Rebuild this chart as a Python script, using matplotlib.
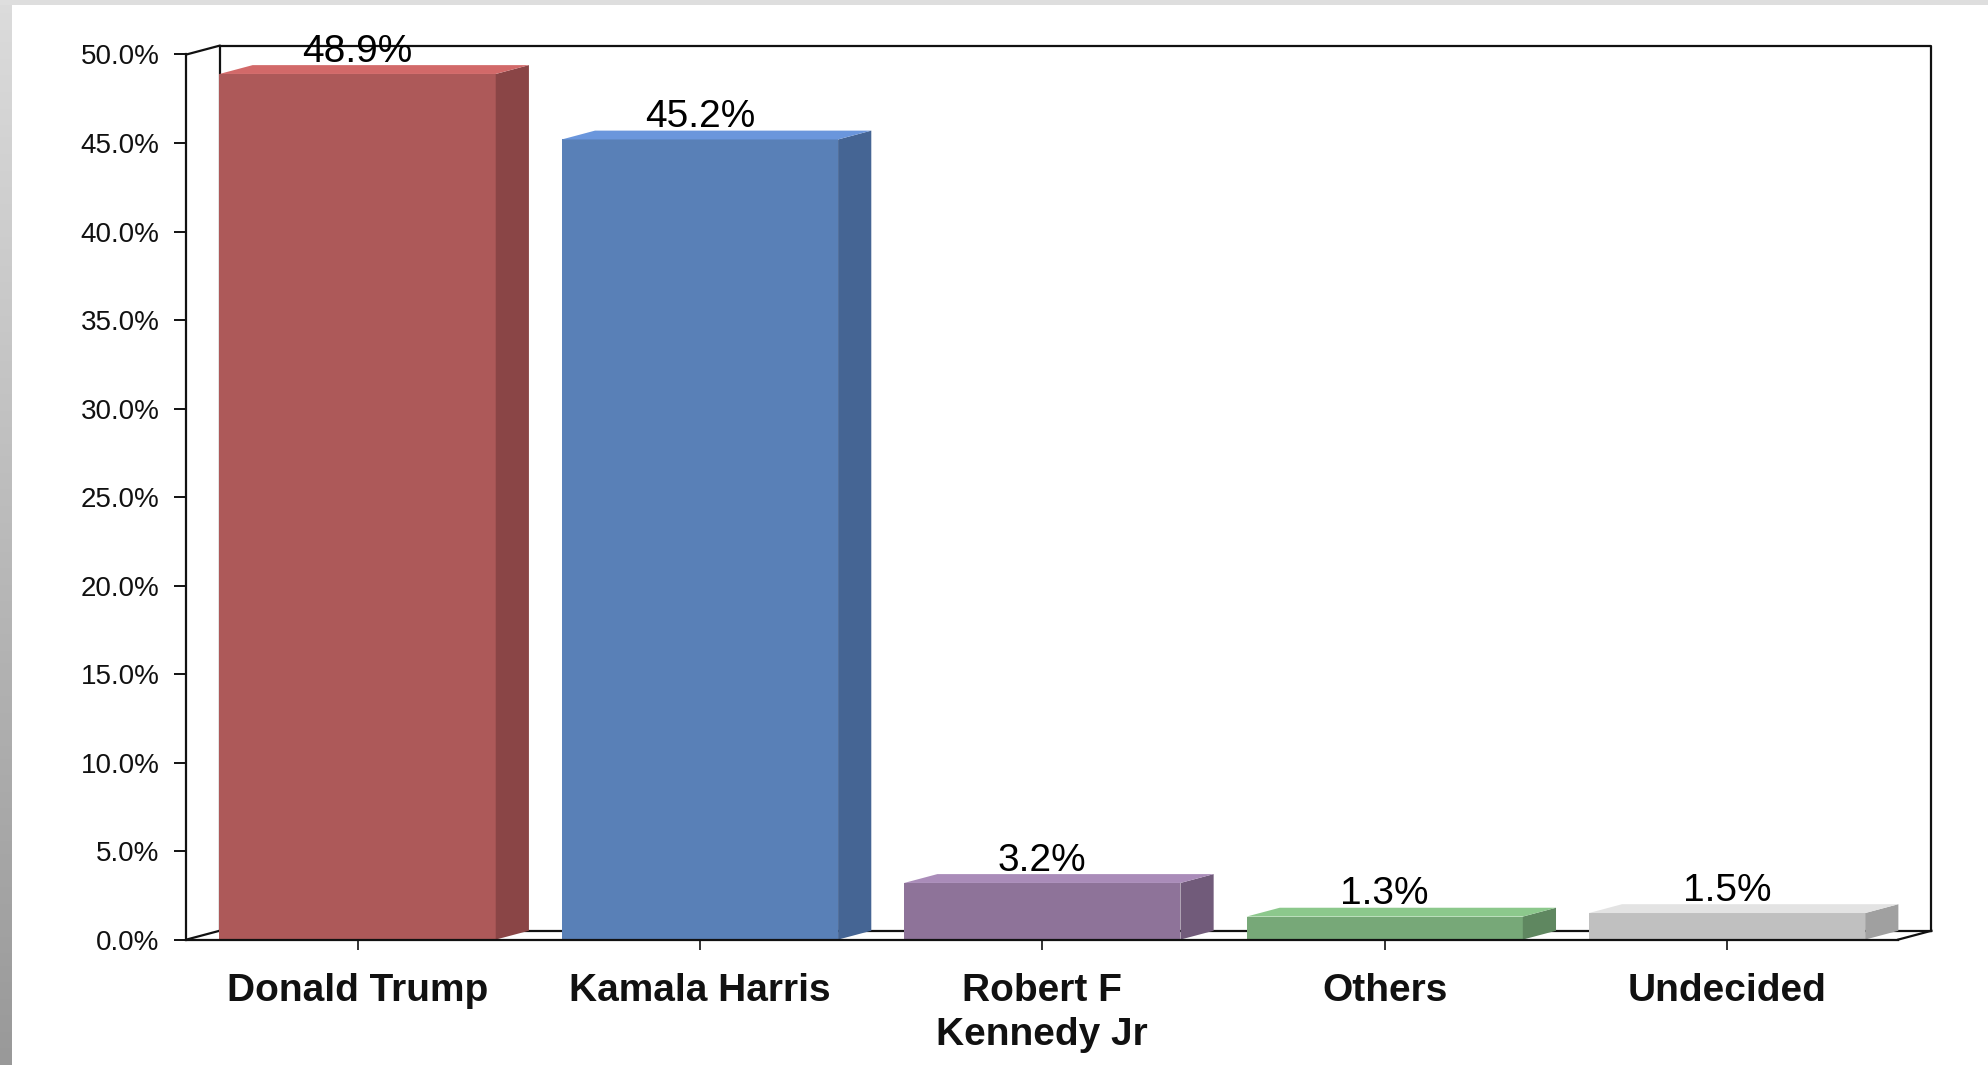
import numpy as np
import matplotlib
matplotlib.use("Agg")
import matplotlib.pyplot as plt
from matplotlib.patches import Polygon, Rectangle

# ---------------- data ----------------
categories = ["Donald Trump", "Kamala Harris", "Robert F\nKennedy Jr", "Others", "Undecided"]
values = [48.9, 45.2, 3.2, 1.3, 1.5]
value_labels = ["48.9%", "45.2%", "3.2%", "1.3%", "1.5%"]
y_ticks = [0, 5, 10, 15, 20, 25, 30, 35, 40, 45, 50]
y_tick_labels = ["0.0%", "5.0%", "10.0%", "15.0%", "20.0%", "25.0%",
                 "30.0%", "35.0%", "40.0%", "45.0%", "50.0%"]
front_colors = ["#AD5959", "#5980B7", "#8E7399", "#77A878", "#C0C0C0"]
side_colors = ["#8A4546", "#456594", "#715B7A", "#5F8760", "#A0A0A0"]
top_colors = ["#D26969", "#6A96DC", "#AA8CB9", "#8CC88C", "#E3E3E3"]

plt.rcParams['font.family'] = ['Liberation Sans', 'DejaVu Sans']

W, H = 1988, 1065
fig = plt.figure(figsize=(W / 100, H / 100), dpi=100)
fig.patch.set_facecolor("white")

# background frame strips
bg = fig.add_axes([0, 0, 1, 1])
bg.set_xlim(0, W)
bg.set_ylim(H, 0)
bg.set_axis_off()
grad = np.linspace(0.86, 0.60, 256).reshape(-1, 1)
bg.imshow(np.dstack([grad, grad, grad]), extent=[0, 12, H, 5], aspect="auto")
bg.add_patch(Rectangle((0, 0), W, 5, color="#dedede", lw=0))

# main axes = front plane
left, right = 186.4, 1898.2
top, bottom = 54.5, 939.6
ax = fig.add_axes([left / W, 1 - bottom / H, (right - left) / W, (bottom - top) / H])
ax.set_facecolor("none")
ax.set_xlim(-0.5, len(categories) - 0.5)
ax.set_ylim(0, 50)

dx, dy = 0.097, 0.5   # depth offset
x = np.arange(len(categories))
bw = 0.807
lc = "#111111"
lw = 1.6

x0, x1 = -0.5, len(categories) - 0.5
# back wall and floor
ax.plot([x0 + dx, x0 + dx, x1 + dx, x1 + dx], [dy, 50 + dy, 50 + dy, dy],
        color=lc, lw=lw, clip_on=False, zorder=1)
ax.plot([x0, x0 + dx], [50, 50 + dy], color=lc, lw=lw, clip_on=False, zorder=1)
ax.plot([x0 + dx, x1 + dx], [dy, dy], color=lc, lw=lw, clip_on=False, zorder=1)
ax.plot([x0, x0 + dx], [0, dy], color=lc, lw=lw, clip_on=False, zorder=1)
ax.plot([x1, x1 + dx], [0, dy], color=lc, lw=lw, clip_on=False, zorder=1)

# bars
ax.bar(x, values, width=bw, color=front_colors, zorder=3)
for xi, v, sc, tc in zip(x, values, side_colors, top_colors):
    a, b = xi - bw / 2, xi + bw / 2
    ax.add_patch(Polygon([(b, 0), (b + dx, dy), (b + dx, v + dy), (b, v)],
                         closed=True, facecolor=sc, edgecolor="none", zorder=3, clip_on=False))
    ax.add_patch(Polygon([(a, v), (b, v), (b + dx, v + dy), (a + dx, v + dy)],
                         closed=True, facecolor=tc, edgecolor="none", zorder=3, clip_on=False))

# value labels
for xi, v, lab in zip(x, values, value_labels):
    ax.annotate(lab, (xi, v + dy), xytext=(0, 2.5), textcoords="offset points",
                ha="center", va="baseline", fontsize=28, color="black", zorder=5,
                annotation_clip=False)

# spines
for s in ["top", "right"]:
    ax.spines[s].set_visible(False)
ax.spines["left"].set_linewidth(lw)
ax.spines["left"].set_color(lc)
ax.spines["bottom"].set_linewidth(lw)
ax.spines["bottom"].set_color(lc)
ax.spines["bottom"].set_zorder(4)

ax.set_yticks(y_ticks, y_tick_labels, fontsize=20)
ax.tick_params(axis="y", direction="out", length=8.5, width=1.4, pad=11, colors=lc)
ax.set_xticks(x, categories, fontsize=28, fontweight="bold", linespacing=1.3)
ax.tick_params(axis="x", direction="out", length=7, width=1.2, pad=17, colors=lc)

fig.savefig("out.png", dpi=100)
